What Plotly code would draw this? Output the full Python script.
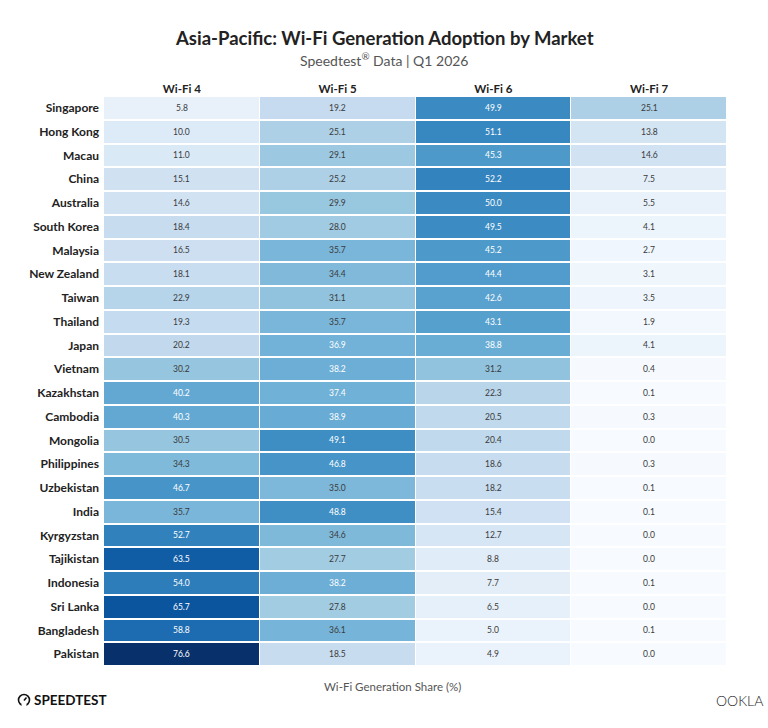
import plotly.graph_objects as go
import plotly.express as px

markets = ["Singapore", "Hong Kong", "Macau", "China", "Australia", "South Korea",
           "Malaysia", "New Zealand", "Taiwan", "Thailand", "Japan", "Vietnam",
           "Kazakhstan", "Cambodia", "Mongolia", "Philippines", "Uzbekistan", "India",
           "Kyrgyzstan", "Tajikistan", "Indonesia", "Sri Lanka", "Bangladesh", "Pakistan"]
generations = ["Wi-Fi 4", "Wi-Fi 5", "Wi-Fi 6", "Wi-Fi 7"]

wifi4 = [5.8, 10.0, 11.0, 15.1, 14.6, 18.4, 16.5, 18.1, 22.9, 19.3, 20.2, 30.2,
         40.2, 40.3, 30.5, 34.3, 46.7, 35.7, 52.7, 63.5, 54.0, 65.7, 58.8, 76.6]
wifi5 = [19.2, 25.1, 29.1, 25.2, 29.9, 28.0, 35.7, 34.4, 31.1, 35.7, 36.9, 38.2,
         37.4, 38.9, 49.1, 46.8, 35.0, 48.8, 34.6, 27.7, 38.2, 27.8, 36.1, 18.5]
wifi6 = [49.9, 51.1, 45.3, 52.2, 50.0, 49.5, 45.2, 44.4, 42.6, 43.1, 38.8, 31.2,
         22.3, 20.5, 20.4, 18.6, 18.2, 15.4, 12.7, 8.8, 7.7, 6.5, 5.0, 4.9]
wifi7 = [25.1, 13.8, 14.6, 7.5, 5.5, 4.1, 2.7, 3.1, 3.5, 1.9, 4.1, 0.4,
         0.1, 0.3, 0.0, 0.3, 0.1, 0.1, 0.0, 0.0, 0.1, 0.0, 0.1, 0.0]

cols = [wifi4, wifi5, wifi6, wifi7]
z = [[cols[j][i] for j in range(4)] for i in range(len(markets))]
zmax = max(max(c) for c in cols)

FONT = "Lato"
W, H = 768, 728
L, R, T, B = 104, 41, 96, 62
pw, ph = W - L - R, H - T - B


def px2paper(xp, yp):
    return (xp - L) / pw, 1 - (yp - T) / ph


fig = go.Figure(go.Heatmap(
    z=z, x=generations, y=markets,
    colorscale=px.colors.sequential.Blues, zmin=0, zmax=zmax,
    showscale=False, xgap=1, ygap=2, hoverongaps=False,
))

annotations = []
for i, m in enumerate(markets):
    for j, g in enumerate(generations):
        v = cols[j][i]
        annotations.append(dict(
            x=g, y=m, xref="x", yref="y", text=f"{v:.1f}", showarrow=False,
            font=dict(family=FONT, size=8.5, color="#ffffff" if v > 36.5 else "#3a3a3a"),
        ))


def paper_text(xp, yp, text, size, color, anchor="center", weight=None):
    x, y = px2paper(xp, yp)
    f = dict(family=FONT, size=size, color=color)
    if weight is not None:
        f["weight"] = weight
    annotations.append(dict(x=x, y=y, xref="paper", yref="paper", xanchor=anchor,
                            yanchor="middle", text=text, showarrow=False, font=f))


paper_text(384, 38, "<b>Asia-Pacific: Wi-Fi Generation Adoption by Market</b>", 18.5, "#222222")
paper_text(384, 59, "Speedtest<sup>®</sup> Data | Q1 2026", 14, "#555555")
paper_text(392, 686, "Wi-Fi Generation Share (%)", 11.5, "#555555")
paper_text(32, 700, "<b>SPEEDTEST</b>", 13.5, "#111111", anchor="left")
paper_text(765, 700, "OOKLA", 14, "#222222", anchor="right", weight=300)

fig.update_layout(
    width=W, height=H,
    margin=dict(l=L, r=R, t=T, b=B),
    paper_bgcolor="white", plot_bgcolor="white",
    annotations=annotations,
    font=dict(family=FONT),
)

# gauge icon of the Speedtest logo
cx0, cy0 = px2paper(18.5, 694.5)
cx1, cy1 = px2paper(29.5, 705.5)
fig.add_shape(type="circle", xref="paper", yref="paper", x0=cx0, x1=cx1, y0=cy1, y1=cy0,
              line=dict(color="#111111", width=1.6))
gx0, gy0 = px2paper(21.5, 705.5)
gx1, gy1 = px2paper(26.5, 705.5)
fig.add_shape(type="line", xref="paper", yref="paper", x0=gx0, y0=gy0, x1=gx1, y1=gy1,
              line=dict(color="white", width=3))
nx0, ny0 = px2paper(24, 700.5)
nx1, ny1 = px2paper(26.5, 697.5)
fig.add_shape(type="line", xref="paper", yref="paper", x0=nx0, y0=ny0, x1=nx1, y1=ny1,
              line=dict(color="#111111", width=1.6))

fig.update_xaxes(side="top", showgrid=False, zeroline=False, ticks="", showline=False,
                 tickfont=dict(family=FONT, size=11.5, color="#222222", weight=700))
fig.update_yaxes(autorange="reversed", showgrid=False, zeroline=False, ticks="", showline=False,
                 tickfont=dict(family=FONT, size=12, color="#222222", weight=700),
                 ticklabelstandoff=4)

fig.write_html("out.html")
